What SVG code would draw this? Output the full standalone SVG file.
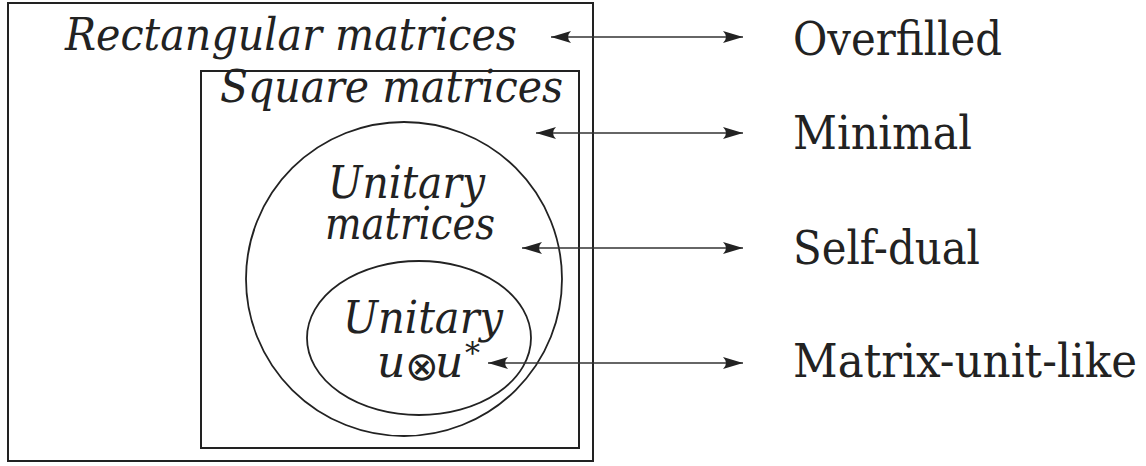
<svg xmlns="http://www.w3.org/2000/svg" width="1146" height="466" viewBox="0 0 1146 466">
<style>
.box{fill:none;stroke:#222;stroke-width:2}
.ell{fill:none;stroke:#222;stroke-width:1.8}
.lbl{font-family:"DejaVu Serif","Liberation Serif",serif;font-style:italic;font-size:44px;fill:#222}
.rl{font-family:"DejaVu Serif","Liberation Serif",serif;font-size:47px;fill:#222}
.op{font-family:"DejaVu Sans",sans-serif;font-style:normal;font-weight:normal;font-size:40px}
.ar{stroke:#333;stroke-width:1.4;fill:none;marker-start:url(#ah);marker-end:url(#ah)}
</style>
<defs>
<marker id="ah" viewBox="0 0 20 12" refX="20" refY="6" markerWidth="20" markerHeight="12" markerUnits="userSpaceOnUse" orient="auto-start-reverse">
<path d="M20,6 L0,0 Q6,6 0,12 Z" fill="#222"/>
</marker>
</defs>
<rect width="1146" height="466" fill="#fff"/>
<g id="rectangular">
<rect class="box" x="8" y="3" width="585" height="458"/>
<text class="lbl" x="65" y="50" textLength="452" lengthAdjust="spacingAndGlyphs">Rectangular matrices</text>
</g>
<g id="square">
<rect class="box" x="201" y="71" width="378" height="377"/>
<text class="lbl" x="220" y="102" textLength="343" lengthAdjust="spacingAndGlyphs">Square matrices</text>
</g>
<g id="unitary">
<ellipse class="ell" cx="404" cy="279" rx="158" ry="157"/>
<text class="lbl" x="328" y="198" textLength="157" lengthAdjust="spacingAndGlyphs">Unitary</text>
<text class="lbl" x="325" y="239" textLength="170" lengthAdjust="spacingAndGlyphs">matrices</text>
</g>
<g id="unitary-uu">
<ellipse class="ell" cx="419" cy="338" rx="112" ry="77"/>
<text class="lbl" x="343" y="333" textLength="160" lengthAdjust="spacingAndGlyphs">Unitary</text>
<text class="lbl" y="377"><tspan x="377">u</tspan><tspan class="op" x="405" dy="3">⊗</tspan><tspan x="435" dy="-3">u</tspan><tspan x="465" font-style="normal" style="font-size:30px" dy="-14">*</tspan></text>
</g>
<g id="overfilled"><text class="rl" x="793" y="55" textLength="209" lengthAdjust="spacingAndGlyphs">Overfilled</text></g>
<g id="minimal"><text class="rl" x="793" y="149" textLength="179" lengthAdjust="spacingAndGlyphs">Minimal</text></g>
<g id="selfdual"><text class="rl" x="793" y="264" textLength="187" lengthAdjust="spacingAndGlyphs">Self-dual</text></g>
<g id="matrixunit"><text class="rl" x="793" y="377" textLength="344" lengthAdjust="spacingAndGlyphs">Matrix-unit-like</text></g>
<g id="connectors">
<line class="ar" x1="551" y1="37" x2="743" y2="37"/>
<line class="ar" x1="536" y1="133" x2="743" y2="133"/>
<line class="ar" x1="522" y1="248" x2="743" y2="248"/>
<line class="ar" x1="488" y1="363" x2="743" y2="363"/>
</g>
</svg>
